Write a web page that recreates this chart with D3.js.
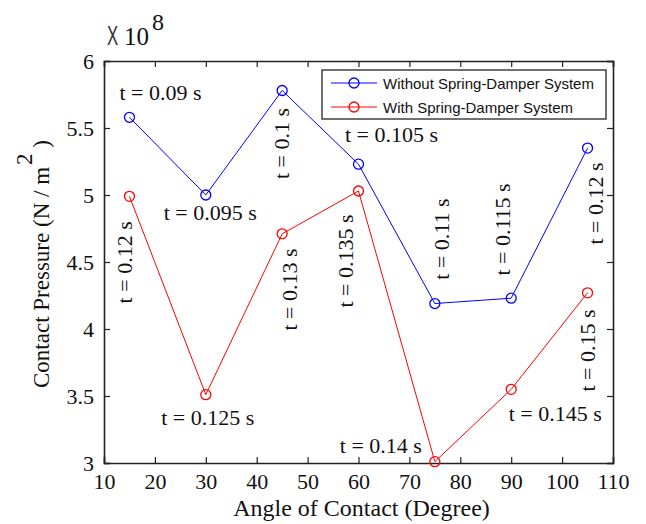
<!DOCTYPE html>
<html>
<head>
<meta charset="utf-8">
<script src="https://cdn.jsdelivr.net/npm/d3@7"></script>
<style>
  html, body { margin: 0; padding: 0; background: #fff; }
  svg { display: block; }
</style>
</head>
<body>
<svg id="chart" width="646" height="524"></svg>
<script>
// Contact angle (degrees)
const angles = [15, 30, 45, 60, 75, 90, 105];
// Contact pressure, in units of 1e8 N/m^2
const withoutDamper = [5.58, 5.00, 5.78, 5.23, 4.19, 4.23, 5.35];
const withDamper    = [4.99, 3.51, 4.71, 5.03, 3.01, 3.55, 4.27];
// Time at which each contact occurs (s)
const timesWithout = ["0.09", "0.095", "0.1", "0.105", "0.11", "0.115", "0.12"];
const timesWith    = ["0.12", "0.125", "0.13", "0.135", "0.14", "0.145", "0.15"];
// Axis ticks
const xTicks = [10, 20, 30, 40, 50, 60, 70, 80, 90, 100, 110];
const yTicks = [3, 3.5, 4, 4.5, 5, 5.5, 6];
const yTickLabels = ["3", "3.5", "4", "4.5", "5", "5.5", "6"];
const seriesNames = ["Without Spring-Damper System", "With Spring-Damper System"];

const SERIF = '"Liberation Serif", "Times New Roman", serif';
const SANS = '"Liberation Sans", Arial, sans-serif';

const svg = d3.select("#chart");
const plot = { left: 104, right: 613, top: 61, bottom: 463 };

const x = d3.scaleLinear().domain([10, 110]).range([plot.left, plot.right]);
const y = d3.scaleLinear().domain([3, 6]).range([plot.bottom, plot.top]);

const tickFont = 22;

// Bottom axis: ticks pointing inward, labels below
const xAxis = d3.axisBottom(x).tickValues(xTicks).tickSize(-6).tickPadding(10)
  .tickFormat(d3.format("d"));
const gx = svg.append("g").attr("transform", `translate(0,${plot.bottom})`).call(xAxis);
// Top axis (ticks only)
const gxTop = svg.append("g").attr("transform", `translate(0,${plot.top})`)
  .call(d3.axisTop(x).tickValues(xTicks).tickSize(-6).tickFormat(""));
// Left axis
const yAxis = d3.axisLeft(y).tickValues(yTicks).tickSize(-6).tickPadding(10)
  .tickFormat((d, i) => yTickLabels[i]);
const gy = svg.append("g").attr("transform", `translate(${plot.left},0)`).call(yAxis);
// Right axis (ticks only)
const gyRight = svg.append("g").attr("transform", `translate(${plot.right},0)`)
  .call(d3.axisRight(y).tickValues(yTicks).tickSize(-6).tickFormat(""));

[gx, gxTop, gy, gyRight].forEach(g => {
  g.attr("font-family", null).attr("font-size", null);
  g.select(".domain").attr("stroke", "#222").attr("stroke-width", 1.6);
  g.selectAll(".tick line").attr("stroke", "#222").attr("stroke-width", 1.2);
  g.selectAll(".tick text")
    .style("font-family", SERIF)
    .style("font-size", tickFont + "px")
    .attr("fill", "#111");
});
gx.selectAll(".tick text").attr("dy", "0.71em");

// Series lines and markers
const series = [
  { values: withoutDamper, color: "#0000ff", times: timesWithout },
  { values: withDamper, color: "#ff0000", times: timesWith }
];

const line = d3.line().x((d, i) => x(angles[i])).y(d => y(d));

series.forEach(s => {
  svg.append("path")
    .datum(s.values)
    .attr("d", line)
    .attr("fill", "none")
    .attr("stroke", s.color)
    .attr("stroke-width", 1);
  svg.selectAll(null)
    .data(s.values)
    .enter().append("circle")
    .attr("cx", (d, i) => x(angles[i]))
    .attr("cy", d => y(d))
    .attr("r", 5)
    .attr("fill", "none")
    .attr("stroke", s.color)
    .attr("stroke-width", 1.3);
});

// Time annotations: placement relative to each marker (pixels)
// h = horizontal, centred; v = rotated, reading upward
const annLayout = [
  [ // without damper
    { kind: "h", dx: 31, dy: -17 },
    { kind: "h", dx: 4.5, dy: 25 },
    { kind: "v", dx: 7, dy: 53 },
    { kind: "h", dx: 33, dy: -22 },
    { kind: "v", dx: 14, dy: -64.5 },
    { kind: "v", dx: -1, dy: -68.7 },
    { kind: "v", dx: 15.4, dy: 55.4 }
  ],
  [ // with damper
    { kind: "v", dx: 2.5, dy: 66 },
    { kind: "h", dx: 2, dy: 30 },
    { kind: "v", dx: 15, dy: 55.6 },
    { kind: "v", dx: -5.5, dy: 70 },
    { kind: "h", dx: -54, dy: -9 },
    { kind: "h", dx: 44, dy: 32 },
    { kind: "v", dx: 7.4, dy: 57.7 }
  ]
];

const annFont = 22;
series.forEach((s, si) => {
  s.values.forEach((v, i) => {
    const lay = annLayout[si][i];
    const px = x(angles[i]) + lay.dx;
    const py = y(v) + lay.dy;
    const t = svg.append("text")
      .style("font-family", SERIF)
      .style("font-size", annFont + "px")
      .attr("fill", "#111")
      .attr("text-anchor", "middle")
      .text(`t = ${s.times[i]} s`);
    if (lay.kind === "h") {
      t.attr("x", px).attr("y", py);
    } else {
      t.attr("transform", `translate(${px},${py}) rotate(-90)`);
    }
  });
});

// Axis titles
svg.append("text")
  .style("font-family", SERIF)
  .style("font-size", "24px")
  .attr("fill", "#111")
  .attr("text-anchor", "middle")
  .attr("x", (plot.left + plot.right) / 2 + 3)
  .attr("y", 516)
  .text("Angle of Contact (Degree)");

const yTitle = svg.append("text")
  .style("font-family", SERIF)
  .style("font-size", "23px")
  .attr("fill", "#111")
  .attr("text-anchor", "start")
  .attr("transform", "translate(49,388) rotate(-90)");
yTitle.append("tspan").text("Contact Pressure (N / m");
yTitle.append("tspan").attr("dy", -17).attr("dx", 2).text("2");
yTitle.append("tspan").attr("dy", 17).text("  )");

// Exponent marker above the y axis
svg.append("text")
  .style("font-family", SANS)
  .style("font-size", "27px")
  .attr("fill", "#333")
  .attr("transform", "translate(107,45) scale(0.62,1)")
  .text("X");
svg.append("text")
  .style("font-family", SERIF)
  .style("font-size", "25px")
  .attr("fill", "#111")
  .attr("x", 124)
  .attr("y", 45)
  .text("10");
svg.append("text")
  .style("font-family", SERIF)
  .style("font-size", "24px")
  .attr("fill", "#111")
  .attr("x", 152)
  .attr("y", 30)
  .text("8");

// Legend
const legend = svg.append("g");
legend.append("rect")
  .attr("x", 322).attr("y", 70)
  .attr("width", 284).attr("height", 49)
  .attr("fill", "#fff")
  .attr("stroke", "#111")
  .attr("stroke-width", 1.2);
series.forEach((s, si) => {
  const ly = 83 + si * 24;
  legend.append("line")
    .attr("x1", 331).attr("x2", 377)
    .attr("y1", ly).attr("y2", ly)
    .attr("stroke", s.color).attr("stroke-width", 1);
  legend.append("circle")
    .attr("cx", 354).attr("cy", ly).attr("r", 5)
    .attr("fill", "none").attr("stroke", s.color).attr("stroke-width", 1.3);
  legend.append("text")
    .style("font-family", SANS)
    .style("font-size", "15px")
    .attr("fill", "#111")
    .attr("x", 383).attr("y", ly + 5.5)
    .text(seriesNames[si]);
});
</script>
</body>
</html>
